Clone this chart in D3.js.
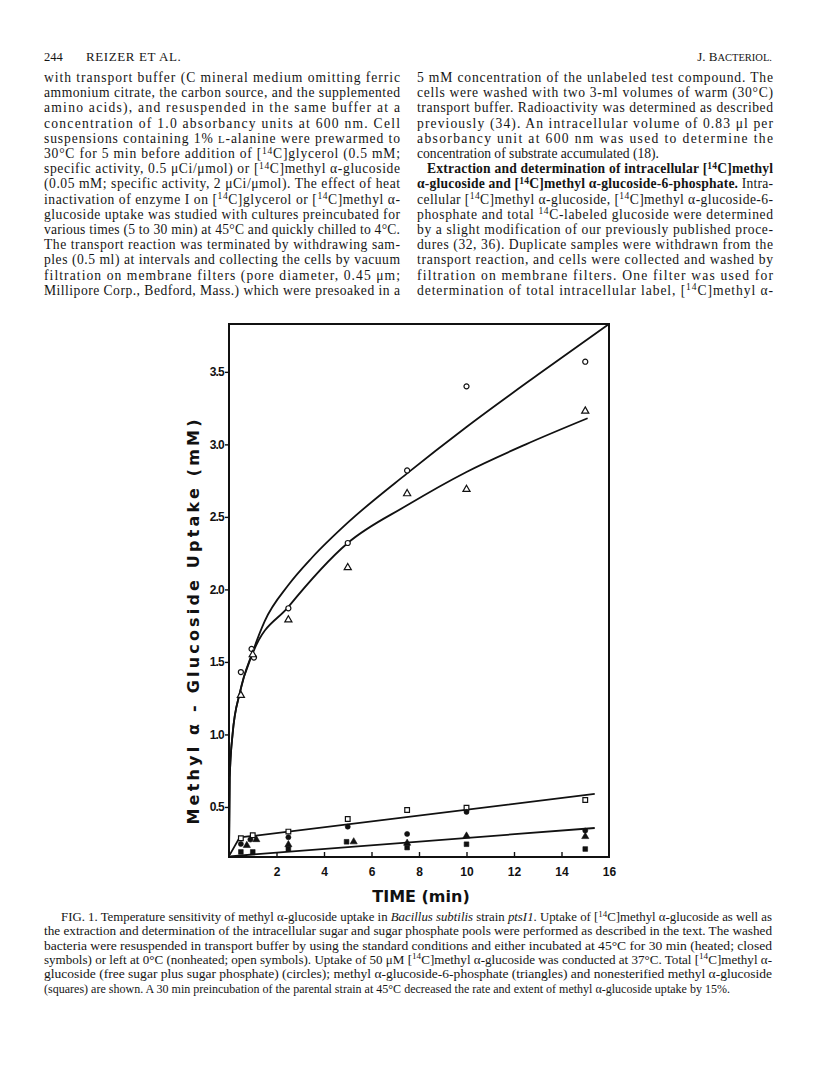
<!DOCTYPE html>
<html>
<head>
<meta charset="utf-8">
<style>
  body { margin: 0; background: #fff; }
  svg { display: block; }
  .txt { font-family: "Liberation Serif", "Times New Roman", serif; font-size: 13.6px; fill: #151515; }
  .cap { font-family: "Liberation Serif", "Times New Roman", serif; font-size: 12.4px; fill: #151515; }
  .lab { font-family: "DejaVu Sans", "Liberation Sans", Arial, sans-serif; font-weight: bold; fill: #111; }
  .axis text { font-family: "Liberation Sans", Arial, sans-serif; font-weight: bold; font-size: 12px; fill: #111; }
  .axis line { stroke: #111; stroke-width: 1.4px; }
  .axis path { display: none; }
</style>
</head>
<body>
<svg width="816" height="1072"></svg>
<script src="https://d3js.org/d3.v7.min.js"></script>
<script>
// ---- data (time in min, uptake in mM) ----
const xTicks = [2, 4, 6, 8, 10, 12, 14, 16];
const yTicks = [0.5, 1.0, 1.5, 2.0, 2.5, 3.0, 3.5];

// nonheated (open symbols)
const openCircles   = [[0.5, 1.43], [0.95, 1.59], [1.05, 1.53], [2.5, 1.87], [5, 2.32], [7.5, 2.82], [10, 3.40], [15, 3.57]];
const openTriangles = [[0.5, 1.27], [1, 1.55], [2.5, 1.79], [5, 2.15], [7.5, 2.66], [10, 2.69], [15, 3.23]];
const openSquares   = [[0.5, 0.284], [1, 0.305], [2.5, 0.33], [5, 0.417], [7.5, 0.479], [10, 0.495], [15, 0.548]];
// heated (closed symbols)
const fillCircles   = [[0.5, 0.245], [0.9, 0.275], [2.5, 0.291], [5, 0.364], [7.5, 0.314], [10, 0.466], [15, 0.337]];
const fillTriangles = [[0.75, 0.235], [1.15, 0.275], [2.5, 0.24], [5.25, 0.26], [7.5, 0.25], [10, 0.30], [15, 0.296]];
const fillSquares   = [[0.5, 0.19], [1, 0.19], [2.5, 0.21], [4.95, 0.26], [7.5, 0.22], [10, 0.243], [15, 0.21]];

// hand drawn curves
const totalCurve = [[0, 0.16], [0.03, 0.7], [0.15, 1.0], [0.46, 1.29], [1, 1.57], [1.5, 1.78], [2.5, 2.03], [3.5, 2.22], [5, 2.46], [7.5, 2.80], [10, 3.12], [13, 3.48], [16, 3.83]];
const phosCurve  = [[0, 0.16], [0.03, 0.7], [0.15, 1.0], [0.46, 1.29], [1, 1.56], [2.5, 1.88], [5, 2.32], [7.5, 2.58], [10, 2.81], [12.5, 3.0], [15.1, 3.18]];
const openLine   = [[0.03, 0.17], [0.45, 0.29], [1, 0.30], [15.4, 0.59]];
const heatLine   = [[0.03, 0.16], [15.4, 0.355]];

// ---- page text ----
const header = ["244", "REIZER ET AL.", "J. B", "ACTERIOL."];
const col1 = [
  "with transport buffer (C mineral medium omitting ferric",
  "ammonium citrate, the carbon source, and the supplemented",
  "amino acids), and resuspended in the same buffer at a",
  "concentration of 1.0 absorbancy units at 600 nm. Cell",
  "suspensions containing 1% ~L-alanine were prewarmed to",
  "30°C for 5 min before addition of [^14C]glycerol (0.5 mM;",
  "specific activity, 0.5 μCi/μmol) or [^14C]methyl α-glucoside",
  "(0.05 mM; specific activity, 2 μCi/μmol). The effect of heat",
  "inactivation of enzyme I on [^14C]glycerol or [^14C]methyl α-",
  "glucoside uptake was studied with cultures preincubated for",
  "various times (5 to 30 min) at 45°C and quickly chilled to 4°C.",
  "The transport reaction was terminated by withdrawing sam-",
  "ples (0.5 ml) at intervals and collecting the cells by vacuum",
  "filtration on membrane filters (pore diameter, 0.45 μm;",
  "Millipore Corp., Bedford, Mass.) which were presoaked in a"
];
const col2 = [
  "5 mM concentration of the unlabeled test compound. The",
  "cells were washed with two 3-ml volumes of warm (30°C)",
  "transport buffer. Radioactivity was determined as described",
  "previously (34). An intracellular volume of 0.83 μl per",
  "absorbancy unit at 600 nm was used to determine the",
  "concentration of substrate accumulated (18).",
  "*Extraction and determination of intracellular [^14C]methyl*",
  "*α-glucoside and [^14C]methyl α-glucoside-6-phosphate.* Intra-",
  "cellular [^14C]methyl α-glucoside, [^14C]methyl α-glucoside-6-",
  "phosphate and total ^14C-labeled glucoside were determined",
  "by a slight modification of our previously published proce-",
  "dures (32, 36). Duplicate samples were withdrawn from the",
  "transport reaction, and cells were collected and washed by",
  "filtration on membrane filters. One filter was used for",
  "determination of total intracellular label, [^14C]methyl α-"
];
const caption = [
  "FIG. 1. Temperature sensitivity of methyl α-glucoside uptake in _Bacillus subtilis_ strain _ptsI1_. Uptake of [^14C]methyl α-glucoside as well as",
  "the extraction and determination of the intracellular sugar and sugar phosphate pools were performed as described in the text. The washed",
  "bacteria were resuspended in transport buffer by using the standard conditions and either incubated at 45°C for 30 min (heated; closed",
  "symbols) or left at 0°C (nonheated; open symbols). Uptake of 50 μM [^14C]methyl α-glucoside was conducted at 37°C. Total [^14C]methyl α-",
  "glucoside (free sugar plus sugar phosphate) (circles); methyl α-glucoside-6-phosphate (triangles) and nonesterified methyl α-glucoside",
  "(squares) are shown. A 30 min preincubation of the parental strain at 45°C decreased the rate and extent of methyl α-glucoside uptake by 15%."
];

const svg = d3.select("svg");
svg.append("rect").attr("width", 816).attr("height", 1072).attr("fill", "#fff");

// writes one line, with ^sup, _italic_, *bold* and ~smallcap markers
function writeLine(g, str, x, y, cls, width, adjust) {
  const t = g.append("text").attr("class", cls).attr("x", x).attr("y", y);
  const parts = str.split(/(\^\d+|_[^_]+_|\*[^*]+\*|~\w)/).filter(s => s.length);
  let lift = false;
  parts.forEach(p => {
    let s = t.append("tspan");
    if (lift) { s.attr("dy", 4.5); lift = false; }
    if (p[0] === "^") {
      s.attr("dy", -4.5).style("font-size", "70%").text(p.slice(1));
      lift = true;
    } else if (p[0] === "_") {
      s.style("font-style", "italic").text(p.slice(1, -1));
    } else if (p[0] === "*") {
      // bold may contain superscripts
      const sub = p.slice(1, -1).split(/(\^\d+)/).filter(q => q.length);
      s.remove();
      sub.forEach(q => {
        const b = t.append("tspan").style("font-weight", "bold");
        if (lift) { b.attr("dy", 4.5); lift = false; }
        if (q[0] === "^") { b.attr("dy", -4.5).style("font-size", "70%").text(q.slice(1)); lift = true; }
        else b.text(q);
      });
    } else if (p[0] === "~") {
      s.style("font-size", "80%").text(p.slice(1));
    } else {
      s.text(p);
    }
  });
  if (width) t.attr("textLength", width).attr("lengthAdjust", adjust || "spacing");
  return t;
}

// header
svg.append("text").attr("class", "txt").attr("x", 44).attr("y", 61).style("font-size", "12.5px").text(header[0]);
svg.append("text").attr("class", "txt").attr("x", 86).attr("y", 61).style("font-size", "13px").style("letter-spacing", "0.6px").text(header[1]);
const jb = svg.append("text").attr("class", "txt").attr("x", 772).attr("y", 61).attr("text-anchor", "end").style("font-size", "13px");
jb.append("tspan").text(header[2]);
jb.append("tspan").style("font-size", "10.5px").text(header[3]);

// body columns
const lineH = 15.2, top0 = 82;
col1.forEach((s, i) => writeLine(svg, s, 44, top0 + i * lineH, "txt", 356));
col2.forEach((s, i) => {
  const last = i === 5;
  const indent = i === 6 ? 10 : 0;
  writeLine(svg, s, 417 + indent, top0 + i * lineH, "txt", last ? null : 356 - indent);
});

// ---- chart ----
const x = d3.scaleLinear().domain([0, 16]).range([229, 609]);
const y = d3.scaleLinear().domain([0.155, 3.83]).range([857, 324]);

const g = svg.append("g");
g.append("rect")
  .attr("x", x(0)).attr("y", y(3.83))
  .attr("width", x(16) - x(0)).attr("height", y(0.155) - y(3.83))
  .attr("fill", "none").attr("stroke", "#111").attr("stroke-width", 2);

g.append("g").attr("class", "axis")
  .attr("transform", `translate(${x(0)},0)`)
  .call(d3.axisLeft(y).tickValues(yTicks).tickSize(4).tickPadding(1).tickFormat(d3.format(".1f")))
  .selectAll("text").style("letter-spacing", "-0.8px");

g.append("g").attr("class", "axis")
  .attr("transform", `translate(0,${y(0.155)})`)
  .call(d3.axisBottom(x).tickValues(xTicks).tickSize(-5).tickPadding(10));
// the 16 label sits outside the frame
g.selectAll(".axis line").filter(d => d === 16).remove();

const line = d3.line().x(d => x(d[0])).y(d => y(d[1]));
[[totalCurve, d3.curveMonotoneX], [phosCurve, d3.curveMonotoneX], [openLine, d3.curveLinear], [heatLine, d3.curveLinear]]
  .forEach(([pts, c]) => {
    g.append("path").datum(pts)
      .attr("d", line.curve(c))
      .attr("fill", "none").attr("stroke", "#111").attr("stroke-width", 1.8);
  });

function marks(data, type, filled) {
  g.selectAll(null).data(data).enter().append("path")
    .attr("transform", d => `translate(${x(d[0])},${y(d[1])})`)
    .attr("d", d3.symbol().type(type).size(type === d3.symbolCircle ? 20 : 22))
    .attr("fill", filled ? "#111" : "#fff")
    .attr("stroke", "#111").attr("stroke-width", filled ? 0.6 : 1.2);
}
marks(openCircles, d3.symbolCircle, false);
marks(openTriangles, d3.symbolTriangle, false);
marks(openSquares, d3.symbolSquare, false);
marks(fillCircles, d3.symbolCircle, true);
marks(fillTriangles, d3.symbolTriangle, true);
marks(fillSquares, d3.symbolSquare, true);

// axis titles
svg.append("text").attr("class", "lab")
  .attr("transform", "translate(199,622) rotate(-90)")
  .attr("text-anchor", "middle")
  .attr("textLength", 405).attr("lengthAdjust", "spacing")
  .style("font-size", "16px")
  .text("Methyl   α  -  Glucoside   Uptake   (mM)");

svg.append("text").attr("class", "lab")
  .attr("x", 421).attr("y", 902).attr("text-anchor", "middle")
  .style("font-size", "16px")
  .text("TIME  (min)");

// caption
const capTop = 921, capH = 14.3;
caption.forEach((s, i) => {
  const ind = i === 0 ? 17 : 0;
  const last = i === caption.length - 1;
  writeLine(svg, s, 44 + ind, capTop + i * capH, "cap", last ? 686 : 728 - ind, "spacingAndGlyphs");
});
</script>
</body>
</html>
